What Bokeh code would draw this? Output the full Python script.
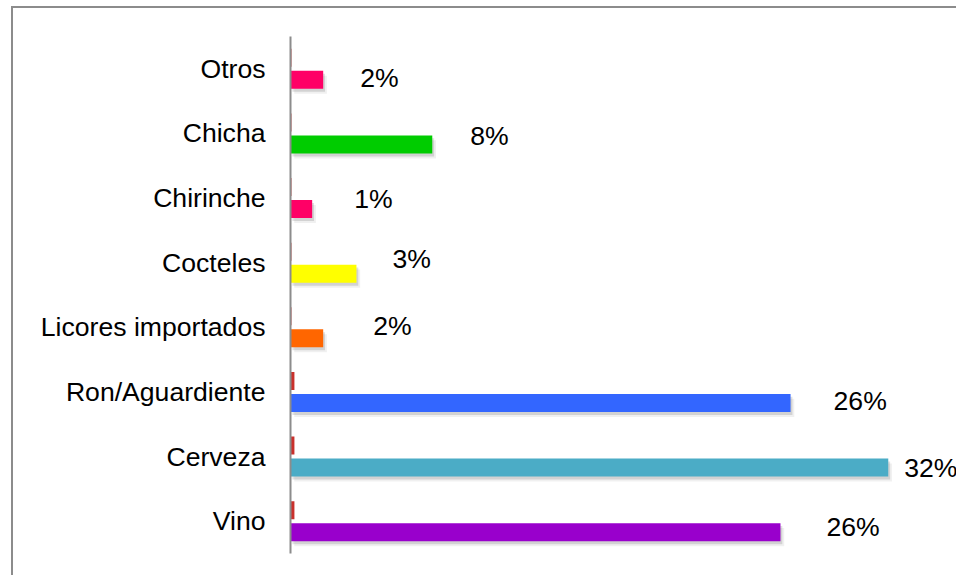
from bokeh.plotting import figure
from bokeh.models import FactorRange, Range1d, ColumnDataSource
from bokeh.transform import dodge
from bokeh.embed import file_html
from bokeh.resources import INLINE
from bokeh.core.properties import value

# ---- data (bottom to top) ----
categories = ["Vino", "Cerveza", "Ron/Aguardiente", "Licores importados",
              "Cocteles", "Chirinche", "Chicha", "Otros"]
main_values = [26.23, 32.0, 26.77, 1.75, 3.53, 1.16, 7.59, 1.75]
minor_values = [0.21, 0.21, 0.21, 0.05, 0.05, 0.05, 0.05, 0.05]
value_labels = ["26%", "32%", "26%", "2%", "3%", "1%", "8%", "2%"]
bar_colors = ["#9900CC", "#4BACC6", "#3366FF", "#FF6600",
              "#FFFF00", "#FF0066", "#00CC00", "#FF0066"]
# manual label placement (pixels right of bar end / up from bar centre)
label_dx = [46, 16, 43, 50, 36, 42, 38, 37]
label_dy = [5, 0, 2, 12, 15, 10, 8, 2]

src = ColumnDataSource(dict(
    cat=categories,
    main=main_values,
    minor=minor_values,
    lab=value_labels,
    color=bar_colors,
    sh1=[v + 0.1 for v in main_values],
    sh2=[v + 0.2 for v in main_values],
    dx=label_dx,
    dy=[-d for d in label_dy],
))

W, H = 945, 569
p = figure(width=W, height=H, output_backend="svg", toolbar_location=None,
           y_range=FactorRange(*categories), x_range=Range1d(0, 35.76),
           x_axis_location=None, min_border_left=277, min_border_right=0,
           min_border_top=28, min_border_bottom=24)
p.styles = {"border-left": "2px solid #8c8c8c", "border-top": "2px solid #8c8c8c",
            "margin-left": "11px", "margin-top": "6px"}
p.outline_line_color = None
p.xgrid.visible = False
p.ygrid.visible = False
p.background_fill_color = "white"
p.border_fill_color = "white"

off_main = -0.17
off_minor = 0.17
bh = 0.28

# shadows
p.hbar(y=dodge("cat", off_main - 0.077, range=p.y_range), left=0.2, right="sh2",
       height=bh, source=src, fill_color="black", fill_alpha=0.06, line_color=None)
p.hbar(y=dodge("cat", off_main - 0.046, range=p.y_range), left=0.1, right="sh1",
       height=bh, source=src, fill_color="black", fill_alpha=0.12, line_color=None)

p.hbar(y=dodge("cat", off_main, range=p.y_range), left=0, right="main",
       height=bh, source=src, fill_color="color", line_color=None)
p.hbar(y=dodge("cat", off_minor, range=p.y_range), left=0, right="minor",
       height=bh, source=src, fill_color="#C9302C", line_color=None)

p.text(x="main", y=dodge("cat", off_main, range=p.y_range), text="lab",
       x_offset="dx", y_offset="dy", source=src,
       text_font=value("Liberation Sans"), text_font_size="26.6px",
       text_color="black", text_align="left", text_baseline="middle")

ax = p.yaxis[0]
ax.axis_line_color = "#8c8c8c"
ax.axis_line_width = 2
ax.major_tick_line_color = None
ax.minor_tick_line_color = None
ax.major_tick_out = 0
ax.major_tick_in = 0
ax.major_label_standoff = 25
ax.major_label_text_font = "Liberation Sans"
ax.major_label_text_font_size = "26.6px"
ax.major_label_text_color = "black"

open("out.html", "w").write(file_html(p, INLINE))
